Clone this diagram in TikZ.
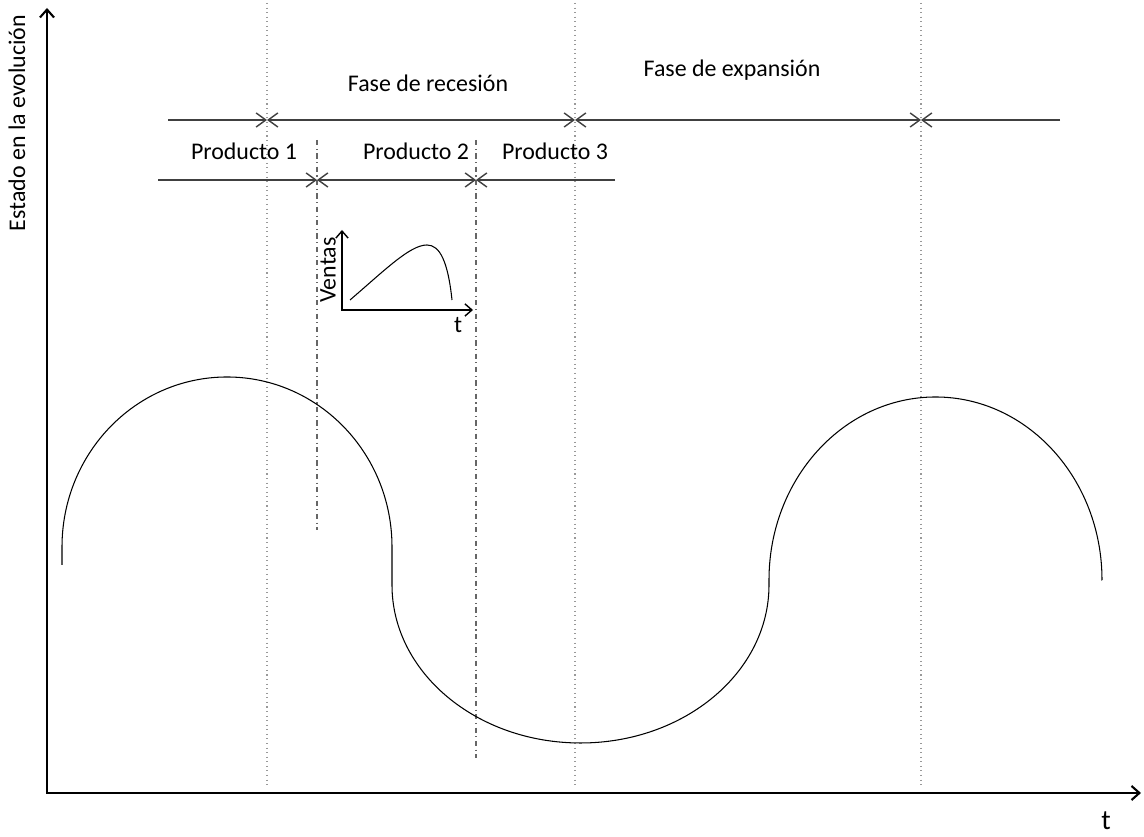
\documentclass[tikz,border=0pt]{standalone}
\usepackage{fontspec}
\setmainfont{Carlito}
\usetikzlibrary{arrows.meta}

\begin{document}
\begin{tikzpicture}[x=0.02cm, y=0.02cm,
    lbl/.style={font=\fontsize{13.6}{16}\selectfont, inner sep=1pt},
    guide/.style={gray!80, line width=0.6pt, dotted},
    prodguide/.style={gray!80!black, line width=0.6pt, dash dot},
    span/.style={black!75, line width=0.8pt, {Straight Barb[length=5.5pt,width=8pt]}-{Straight Barb[length=5.5pt,width=8pt]}},
    halfspan/.style={black!75, line width=0.8pt, -{Straight Barb[length=5.5pt,width=8pt]}},
    axis/.style={line width=1.2pt, {Straight Barb[length=4.5pt,width=8pt]}-{Straight Barb[length=4.5pt,width=8pt]}}]
    \useasboundingbox (0,0) rectangle (1144,837);

    % axes
    \coordinate (ytip) at (47,829);
    \coordinate (xtip) at (1141,44);
    \draw[axis] (ytip) |- (xtip);
    \node[lbl, rotate=90] (ylab) at (17,714) {Estado en la evolución};
    \node[font=\fontsize{16}{18}\selectfont, inner sep=1pt] (tlab) at (1106,16) {t};

    % phase and product boundaries
    \foreach \x in {267,575,921}
        \draw[guide] (\x,834) -- (\x,52);
    \draw[prodguide] (317,697) -- (317,307);
    \draw[prodguide] (476,697) -- (476,79);

    % phase spans
    \coordinate (a0) at (168,717);
    \coordinate (a1) at (267,717);
    \coordinate (a2) at (575,717);
    \coordinate (a3) at (921,717);
    \coordinate (a4) at (1060,717);
    \draw[halfspan] (a0) -- (a1);
    \draw[span] (a1) -- (a2);
    \draw[span] (a2) -- (a3);
    \draw[halfspan] (a4) -- (a3);
    \node[lbl] (rec) at (428,754) {Fase de recesión};
    \node[lbl] (expa) at (732,767) {Fase de expansión};

    % product spans
    \coordinate (b0) at (158,657);
    \coordinate (b1) at (317,657);
    \coordinate (b2) at (476,657);
    \coordinate (b3) at (615,657);
    \draw[halfspan] (b0) -- (b1);
    \draw[span] (b1) -- (b2);
    \draw[halfspan] (b3) -- (b2);
    \node[lbl] (p1) at (244,686) {Producto 1};
    \node[lbl] (p2) at (416,686) {Producto 2};
    \node[lbl] (p3) at (555,686) {Producto 3};

    % small sales curve
    \coordinate (vy) at (342,607);
    \coordinate (vx) at (473,527);
    \draw[line width=0.8pt, {Straight Barb[length=4pt,width=7pt]}-{Straight Barb[length=4pt,width=7pt]}] (vy) |- (vx);
    \draw[line width=0.6pt] (350,537) .. controls (385,567) and (410,592) .. (427,592)
        .. controls (440,592) and (448,575) .. (452,537);
    \node[lbl, rotate=90] (ventas) at (328,567) {Ventas};
    \node[lbl] (tsmall) at (458,512) {t};

    % economic cycle
    \draw[line width=0.6pt] (62,272) -- (62,290)
        arc[start angle=180, end angle=0, x radius=165, y radius=170] -- (392,252)
        arc[start angle=180, end angle=360, x radius=188.5, y radius=158] -- (769,257)
        arc[start angle=180, end angle=0, x radius=166.5, y radius=183] -- (1102,257);
\end{tikzpicture}
\end{document}
